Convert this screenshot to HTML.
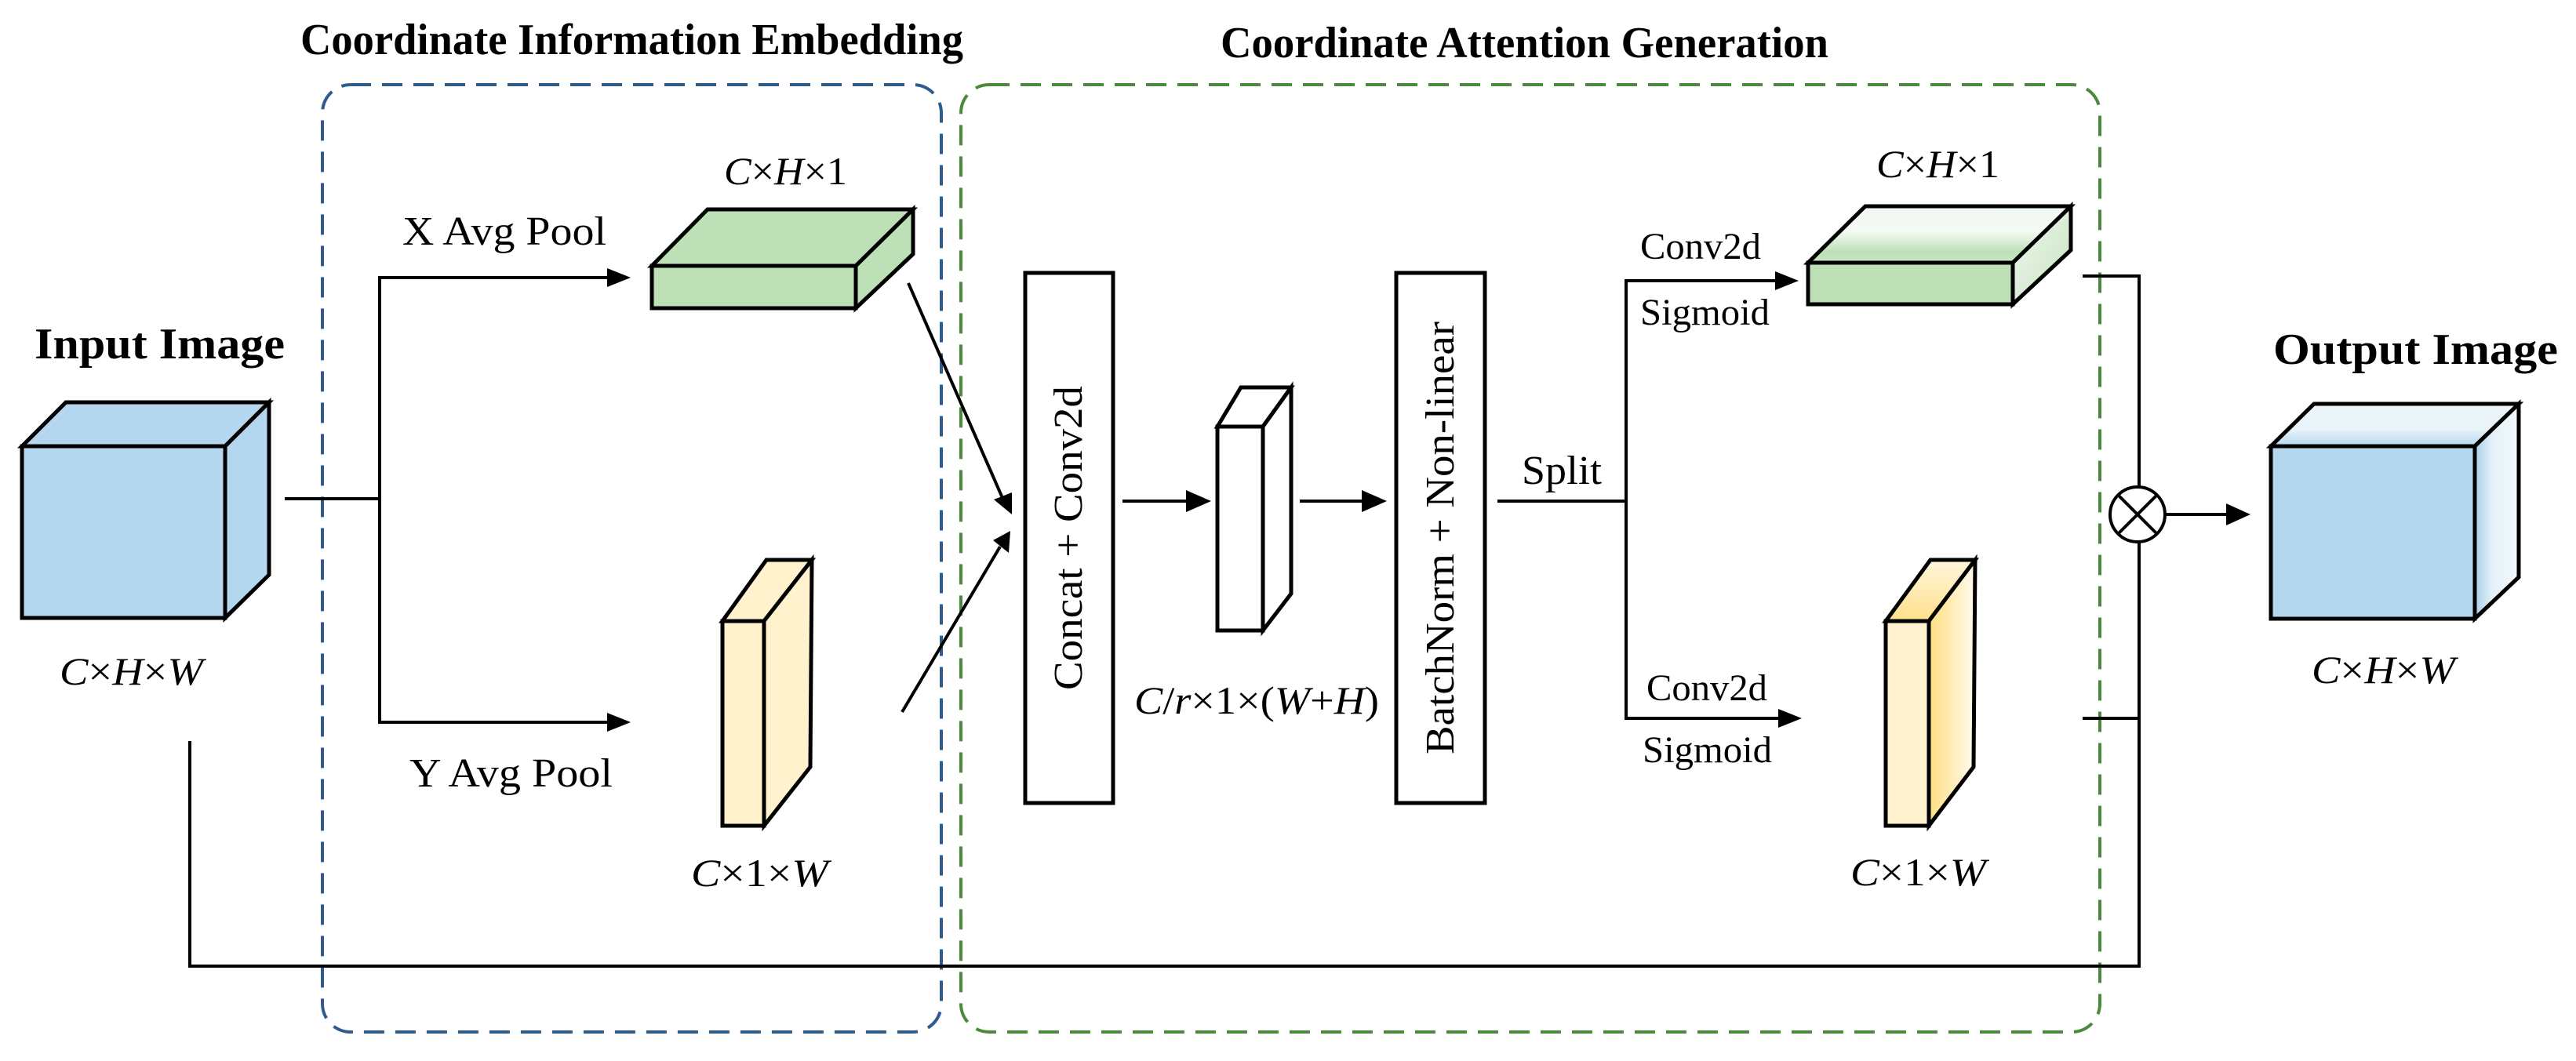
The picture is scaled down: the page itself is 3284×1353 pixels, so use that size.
<!DOCTYPE html>
<html><head><meta charset="utf-8"><style>
html,body{margin:0;padding:0;background:#fff;}
svg{display:block;}
text{font-family:"Liberation Serif","Times New Roman",serif;fill:#000;}
.b{font-weight:bold;}
.i{font-style:italic;}
</style></head><body>
<svg width="3284" height="1353" viewBox="0 0 3284 1353" xmlns="http://www.w3.org/2000/svg">
<defs>
<linearGradient id="gTop" x1="0" y1="0" x2="0" y2="1">
<stop offset="0" stop-color="#f2f8f1"/><stop offset="0.45" stop-color="#f5faf4"/><stop offset="0.8" stop-color="#bfe0b8"/><stop offset="1" stop-color="#c8e5c2"/></linearGradient>
<linearGradient id="gSide" x1="0" y1="0" x2="1" y2="1">
<stop offset="0" stop-color="#f2f8f1"/><stop offset="1" stop-color="#c6e3c0"/></linearGradient>
<linearGradient id="ySide" x1="0" y1="0" x2="1" y2="0">
<stop offset="0" stop-color="#ffdf80"/><stop offset="1" stop-color="#fffaf0"/></linearGradient>
<linearGradient id="yTop" x1="0" y1="0" x2="0" y2="1">
<stop offset="0" stop-color="#fff6dc"/><stop offset="1" stop-color="#ffe08a"/></linearGradient>
<linearGradient id="bTop" x1="0" y1="0" x2="0" y2="1">
<stop offset="0" stop-color="#eef6fb"/><stop offset="0.6" stop-color="#e8f3fa"/><stop offset="1" stop-color="#b4d6ee"/></linearGradient>
<linearGradient id="bSide" x1="0" y1="0" x2="1" y2="0">
<stop offset="0" stop-color="#a9d0ec"/><stop offset="0.4" stop-color="#e4f1f9"/><stop offset="1" stop-color="#f4f9fc"/></linearGradient>
</defs>

<rect x="411" y="108" width="789" height="1208" rx="36" fill="none" stroke="#2e5c8e" stroke-width="4" stroke-dasharray="26,14"/>
<rect x="1225" y="108" width="1452" height="1208" rx="36" fill="none" stroke="#4a8a3c" stroke-width="4" stroke-dasharray="26,14"/>

<text x="383" y="69" class="b" font-size="56" textLength="845" lengthAdjust="spacingAndGlyphs">Coordinate Information Embedding</text>
<text x="1556" y="73" class="b" font-size="56" textLength="775" lengthAdjust="spacingAndGlyphs">Coordinate Attention Generation</text>

<g stroke="#000" stroke-width="5">
<polygon points="28,569 84,513 343,513 287,569" fill="#b4d6ee"/>
<polygon points="287,569 343,513 343,733 287,788" fill="#b4d6ee"/>
<rect x="28" y="569" width="259" height="219" fill="#b4d6ee"/>
</g>
<text x="44" y="457" class="b" font-size="56" textLength="319" lengthAdjust="spacingAndGlyphs">Input Image</text>
<text x="76" y="873" font-size="50" textLength="183" lengthAdjust="spacingAndGlyphs"><tspan class="i">C</tspan>×<tspan class="i">H</tspan>×<tspan class="i">W</tspan></text>

<g stroke="#000" stroke-width="4" fill="none">
<polyline points="363,636 484,636"/>
<polyline points="776,354 484,354 484,921 776,921"/>
<polyline points="242,945 242,1232 2727,1232 2727,352 2655,352"/>
<polyline points="2655,916 2727,916"/>
<line x1="1158" y1="361" x2="1278" y2="635"/>
<line x1="1150" y1="908" x2="1275" y2="697"/>
<line x1="1431" y1="639" x2="1516" y2="639"/>
<line x1="1657" y1="639" x2="1740" y2="639"/>
<polyline points="1909,639 2073,639"/>
<polyline points="2265,358 2073,358 2073,916 2270,916"/>
<line x1="2761" y1="656" x2="2842" y2="656"/>
</g>
<g fill="#000">
<polygon points="804,354 774,342 774,366"/>
<polygon points="804,921 774,909 774,933"/>
<polygon points="1290,656 1267,637 1290,628"/>
<polygon points="1288,677 1266,689 1286,705"/>
<polygon points="1544,639 1512,625 1512,653"/>
<polygon points="1768,639 1736,625 1736,653"/>
<polygon points="2293,358 2263,346 2263,370"/>
<polygon points="2297,916 2267,904 2267,928"/>
<polygon points="2869,656 2838,642 2838,670"/>
</g>

<text x="513" y="312" font-size="52" textLength="260" lengthAdjust="spacingAndGlyphs">X Avg Pool</text>
<text x="522" y="1003" font-size="52" textLength="259" lengthAdjust="spacingAndGlyphs">Y Avg Pool</text>

<g stroke="#000" stroke-width="5">
<polygon points="831,339 902,267 1164,267 1091,339" fill="#bde0b7"/>
<polygon points="1091,339 1164,267 1164,324 1091,393" fill="#bde0b7"/>
<rect x="831" y="339" width="260" height="54" fill="#bde0b7"/>
</g>
<text x="923" y="235" font-size="50" textLength="157" lengthAdjust="spacingAndGlyphs"><tspan class="i">C</tspan>×<tspan class="i">H</tspan>×1</text>

<g stroke="#000" stroke-width="5">
<polygon points="921,792 977,714 1035,714 974,792" fill="#fff2cc"/>
<polygon points="974,792 1035,714 1033,978 974,1053" fill="#fff2cc"/>
<rect x="921" y="792" width="53" height="261" fill="#fff2cc"/>
</g>
<text x="881" y="1130" font-size="50" textLength="175" lengthAdjust="spacingAndGlyphs"><tspan class="i">C</tspan>×1×<tspan class="i">W</tspan></text>

<rect x="1307" y="348" width="112" height="676" fill="#fff" stroke="#000" stroke-width="5"/>
<text transform="translate(1379,686) rotate(-90)" text-anchor="middle" font-size="52" textLength="388" lengthAdjust="spacingAndGlyphs">Concat + Conv2d</text>

<g stroke="#000" stroke-width="5" fill="#fff">
<polygon points="1552,544 1582,494 1646,494 1610,544"/>
<polygon points="1610,544 1646,494 1646,757 1610,804"/>
<rect x="1552" y="544" width="58" height="260"/>
</g>
<text x="1446" y="910" font-size="50" textLength="312" lengthAdjust="spacingAndGlyphs"><tspan class="i">C</tspan>/<tspan class="i">r</tspan>×1×(<tspan class="i">W</tspan>+<tspan class="i">H</tspan>)</text>

<rect x="1780" y="348" width="113" height="676" fill="#fff" stroke="#000" stroke-width="5"/>
<text transform="translate(1853,686) rotate(-90)" text-anchor="middle" font-size="52" textLength="552" lengthAdjust="spacingAndGlyphs">BatchNorm + Non-linear</text>

<text x="1940" y="617" font-size="52" textLength="102" lengthAdjust="spacingAndGlyphs">Split</text>
<text x="2091" y="330" font-size="48" textLength="154" lengthAdjust="spacingAndGlyphs">Conv2d</text>
<text x="2091" y="414" font-size="48" textLength="165" lengthAdjust="spacingAndGlyphs">Sigmoid</text>
<text x="2099" y="893" font-size="48" textLength="154" lengthAdjust="spacingAndGlyphs">Conv2d</text>
<text x="2094" y="972" font-size="48" textLength="165" lengthAdjust="spacingAndGlyphs">Sigmoid</text>

<g stroke="#000" stroke-width="5">
<polygon points="2305,335 2378,263 2640,263 2566,335" fill="url(#gTop)"/>
<polygon points="2566,335 2640,263 2640,319 2566,388" fill="url(#gSide)"/>
<rect x="2305" y="335" width="261" height="53" fill="#bde0b7"/>
</g>
<text x="2392" y="226" font-size="50" textLength="157" lengthAdjust="spacingAndGlyphs"><tspan class="i">C</tspan>×<tspan class="i">H</tspan>×1</text>

<g stroke="#000" stroke-width="5">
<polygon points="2404,792 2461,714 2518,714 2459,792" fill="url(#yTop)"/>
<polygon points="2459,792 2518,714 2516,978 2459,1053" fill="url(#ySide)"/>
<rect x="2404" y="792" width="55" height="261" fill="#fff2cf"/>
</g>
<text x="2359" y="1129" font-size="50" textLength="173" lengthAdjust="spacingAndGlyphs"><tspan class="i">C</tspan>×1×<tspan class="i">W</tspan></text>

<circle cx="2725" cy="656" r="35" fill="#fff" stroke="#000" stroke-width="4"/>
<line x1="2700" y1="631" x2="2750" y2="681" stroke="#000" stroke-width="4"/>
<line x1="2750" y1="631" x2="2700" y2="681" stroke="#000" stroke-width="4"/>

<g stroke="#000" stroke-width="5">
<polygon points="2895,569 2950,515 3211,515 3155,569" fill="url(#bTop)"/>
<polygon points="3155,569 3211,515 3211,736 3155,789" fill="url(#bSide)"/>
<rect x="2895" y="569" width="260" height="220" fill="#b4d6ee"/>
</g>
<text x="2898" y="464" class="b" font-size="56" textLength="363" lengthAdjust="spacingAndGlyphs">Output Image</text>
<text x="2947" y="871" font-size="50" textLength="183" lengthAdjust="spacingAndGlyphs"><tspan class="i">C</tspan>×<tspan class="i">H</tspan>×<tspan class="i">W</tspan></text>
</svg>
</body></html>
